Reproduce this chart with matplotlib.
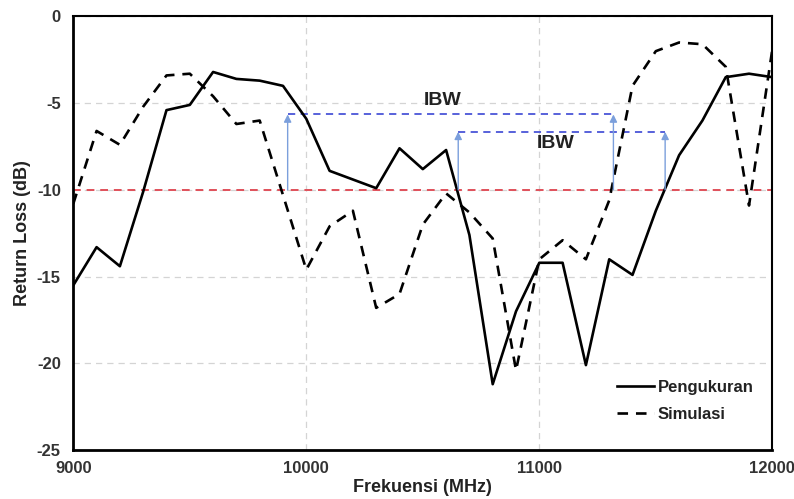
import matplotlib

matplotlib.use("Agg")
import matplotlib.pyplot as plt

# frequency points (MHz)
freq = [9000, 9100, 9200, 9300, 9400, 9500, 9600, 9700, 9800, 9900,
        10000, 10100, 10200, 10300, 10400, 10500, 10600, 10700, 10800, 10900,
        11000, 11100, 11200, 11300, 11400, 11500, 11600, 11700, 11800, 11900,
        12000]

# measured return loss (dB)
pengukuran = [-15.5, -13.3, -14.4, -10.1, -5.4, -5.1, -3.2, -3.6, -3.7, -4.0,
              -5.9, -8.9, -9.4, -9.9, -7.6, -8.8, -7.7, -12.6, -21.2, -17.0,
              -14.2, -14.2, -20.1, -14.0, -14.9, -11.2, -8.0, -6.0, -3.5, -3.3,
              -3.5]

# simulated return loss (dB)
simulasi = [-10.8, -6.6, -7.4, -5.2, -3.4, -3.3, -4.6, -6.2, -6.0, -10.3,
            -14.6, -12.1, -11.2, -16.8, -16.0, -12.0, -10.2, -11.3, -12.8, -20.4,
            -14.0, -12.9, -14.0, -10.6, -4.0, -2.0, -1.5, -1.6, -2.9, -10.9,
            -1.9]

ref_level = -10
# impedance bandwidth markers: (start, stop, level)
ibw_sim = (9920, 11318, -5.65)
ibw_meas = (10652, 11540, -6.65)
ibw_label = "IBW"

plt.rcParams["font.family"] = ["Liberation Sans", "DejaVu Sans"]
plt.rcParams["font.weight"] = "bold"
plt.rcParams["axes.unicode_minus"] = False

fig = plt.figure(figsize=(7.94, 4.99), dpi=100)
ax = fig.add_axes([0.0923, 0.098, 0.8804, 0.869])

ax.plot(freq, pengukuran, color="black", lw=1.9, label="Pengukuran")
ax.plot(freq, simulasi, color="black", lw=1.9, ls=(0, (4, 3)), label="Simulasi")

ax.axhline(ref_level, color="#e0505a", lw=1.4, ls=(0, (4, 3)), zorder=1)

for x0, x1, lvl in (ibw_sim, ibw_meas):
    ax.plot([x0, x1], [lvl, lvl], color="#4a55d8", lw=1.3, ls=(0, (4, 3)), zorder=1)
    for x in (x0, x1):
        ax.annotate("", xy=(x, lvl), xytext=(x, ref_level),
                    arrowprops=dict(arrowstyle="-|>", color="#7b9fdc", lw=1.0,
                                    mutation_scale=11, shrinkA=0, shrinkB=0))

ax.text(10587, -4.85, ibw_label, fontsize=14, fontweight="bold",
        ha="center", va="center", color="#222222")
ax.text(11070, -7.3, ibw_label, fontsize=14, fontweight="bold",
        ha="center", va="center", color="#222222")

ax.set_xlim(9000, 12000)
ax.set_ylim(-25, 0)
ax.set_xticks([9000, 10000, 11000, 12000])
ax.set_yticks([0, -5, -10, -15, -20, -25])
ax.tick_params(length=0, labelsize=12, labelcolor="#333333")
ax.tick_params(axis="x", pad=8)
ax.tick_params(axis="y", pad=9)
ax.grid(True, color="#d4d4d4", ls=(0, (5, 4)), lw=0.9)
ax.set_axisbelow(True)

for side in ("left", "bottom"):
    ax.spines[side].set_linewidth(2.0)
for side in ("top", "right"):
    ax.spines[side].set_linewidth(1.5)

ax.set_xlabel("Frekuensi (MHz)", fontsize=13, fontweight="bold",
              color="#222222", labelpad=2)
ax.set_ylabel("Return Loss (dB)", fontsize=13, fontweight="bold",
              color="#222222", labelpad=4)

leg = ax.legend(loc="lower right", bbox_to_anchor=(0.995, 0.03), frameon=False,
                fontsize=12, handlelength=2.2, handletextpad=0.25,
                labelspacing=0.73)
for t in leg.get_texts():
    t.set_color("#222222")

fig.savefig("out.png", dpi=100)
